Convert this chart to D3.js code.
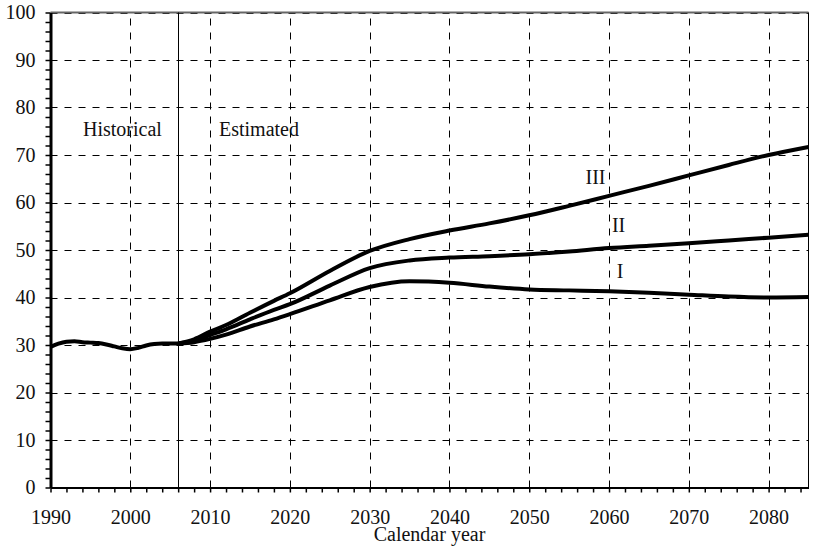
<!DOCTYPE html>
<html>
<head>
<meta charset="utf-8">
<script src="https://cdn.jsdelivr.net/npm/d3@7"></script>
<style>
  body { margin: 0; background: #fff; }
</style>
</head>
<body>
<div id="chart"></div>
<script>
// historical values
var histYears = [1990, 1991, 1992, 1993, 1994, 1995, 1996, 1997, 1998, 1999, 2000, 2001, 2002, 2003, 2004, 2005, 2006];
var histValues = [29.6, 30.3, 30.7, 30.8, 30.6, 30.5, 30.4, 30.1, 29.7, 29.3, 29.1, 29.4, 29.9, 30.2, 30.3, 30.3, 30.3];

// estimated (alternatives I, II, III)
var projYears = [2006, 2008, 2010, 2012, 2015, 2018, 2020, 2025, 2030, 2035, 2040, 2045, 2050, 2055, 2060, 2065, 2070, 2075, 2080, 2085];
var altI   = [30.3, 30.6, 31.3, 32.2, 33.9, 35.4, 36.5, 39.4, 42.2, 43.4, 43.1, 42.3, 41.7, 41.5, 41.3, 41.0, 40.6, 40.2, 40.0, 40.1];
var altII  = [30.3, 30.9, 32.1, 33.3, 35.4, 37.4, 38.6, 42.5, 46.2, 47.8, 48.4, 48.7, 49.1, 49.7, 50.4, 50.9, 51.4, 52.0, 52.6, 53.2];
var altIII = [30.3, 31.2, 32.8, 34.2, 36.8, 39.3, 40.9, 45.6, 49.8, 52.3, 54.1, 55.6, 57.3, 59.3, 61.4, 63.5, 65.7, 67.9, 70.0, 71.7];

var seriesLabels = ["I", "II", "III"];
var labelPos = [[2061.4, 44.2], [2061.2, 53.85], [2058.3, 63.8]]; // year, value at label baseline
var splitYear = 2006;

var FONT = "Liberation Serif, Times New Roman, serif";

var width = 813, height = 558;
var x = d3.scaleLinear().domain([1990, 2085]).range([50.5, 808.5]);
var y = d3.scaleLinear().domain([0, 100]).range([487.5, 12.5]);

var svg = d3.select("#chart").append("svg")
    .attr("width", width)
    .attr("height", height);

// grid
var grid = svg.append("g").attr("class", "grid");
grid.selectAll("line.v")
    .data(d3.range(2000, 2081, 10))
    .enter().append("line")
    .attr("x1", function(d) { return Math.round(x(d)) + 0.5; })
    .attr("x2", function(d) { return Math.round(x(d)) + 0.5; })
    .attr("y1", y(0)).attr("y2", y(100))
    .style("stroke", "#000").style("stroke-width", 1)
    .style("stroke-dasharray", "7,7");
grid.selectAll("line.h")
    .data(d3.range(10, 101, 10))
    .enter().append("line")
    .attr("x1", x(1990)).attr("x2", x(2085))
    .attr("y1", function(d) { return Math.round(y(d)) + 0.5; })
    .attr("y2", function(d) { return Math.round(y(d)) + 0.5; })
    .style("stroke", "#000").style("stroke-width", 1)
    .style("stroke-dasharray", "7,7");

// top border (gray) and right border
svg.append("line")
    .attr("x1", x(1990)).attr("x2", x(2085))
    .attr("y1", y(100)).attr("y2", y(100))
    .style("stroke", "#666").style("stroke-width", 2);
svg.append("line")
    .attr("x1", Math.round(x(2085)) - 0.5).attr("x2", Math.round(x(2085)) - 0.5)
    .attr("y1", y(100)).attr("y2", y(0))
    .style("stroke", "#000").style("stroke-width", 1);

// historical / estimated divider
svg.append("line")
    .attr("x1", Math.round(x(splitYear)) + 0.5).attr("x2", Math.round(x(splitYear)) + 0.5)
    .attr("y1", y(100)).attr("y2", y(0))
    .style("stroke", "#000").style("stroke-width", 1);

// axes
var xAxis = d3.axisBottom(x)
    .tickValues(d3.range(1990, 2086, 2))
    .tickSize(5)
    .tickSizeOuter(0)
    .tickPadding(17)
    .tickFormat(function(d) { return d % 10 === 0 ? d : ""; });
var gx = svg.append("g")
    .attr("transform", "translate(0," + y(0) + ")")
    .call(xAxis);
gx.select(".domain").style("stroke-width", 2);
gx.selectAll(".tick line").style("stroke-width", 1.5);

var yAxis = d3.axisLeft(y)
    .tickValues(d3.range(0, 101, 2))
    .tickSize(5)
    .tickSizeOuter(0)
    .tickPadding(10)
    .tickFormat(function(d) { return d % 10 === 0 ? d : ""; });
var gy = svg.append("g")
    .attr("transform", "translate(" + x(1990) + ",0)")
    .call(yAxis);
gy.select(".domain").style("stroke-width", 3);
gy.selectAll(".tick line").style("stroke-width", 1.5);

svg.selectAll(".tick text")
    .style("font-family", FONT)
    .style("font-size", "20px")
    .style("fill", "#111");

// lines
var line = d3.line()
    .x(function(d) { return x(d[0]); })
    .y(function(d) { return y(d[1]); })
    .curve(d3.curveMonotoneX);

var allSeries = [
    d3.zip(histYears, histValues),
    d3.zip(projYears, altI),
    d3.zip(projYears, altII),
    d3.zip(projYears, altIII)
];
svg.selectAll("path.series")
    .data(allSeries)
    .enter().append("path")
    .attr("class", "series")
    .attr("d", line)
    .style("fill", "none")
    .style("stroke", "#000")
    .style("stroke-width", 4)
    .style("stroke-linejoin", "round");

// labels
var labels = svg.append("g");
labels.selectAll("text.alt")
    .data(seriesLabels)
    .enter().append("text")
    .attr("class", "alt")
    .attr("x", function(d, i) { return x(labelPos[i][0]); })
    .attr("y", function(d, i) { return y(labelPos[i][1]); })
    .attr("text-anchor", "middle")
    .text(function(d) { return d; });

labels.append("text").attr("x", 83).attr("y", 136).text("Historical");
labels.append("text").attr("x", 219).attr("y", 136).text("Estimated");

labels.append("text")
    .attr("x", (x(1990) + x(2085)) / 2)
    .attr("y", 541)
    .attr("text-anchor", "middle")
    .text("Calendar year");

labels.selectAll("text")
    .style("font-family", FONT)
    .style("font-size", "20px")
    .style("fill", "#111");
</script>
</body>
</html>
